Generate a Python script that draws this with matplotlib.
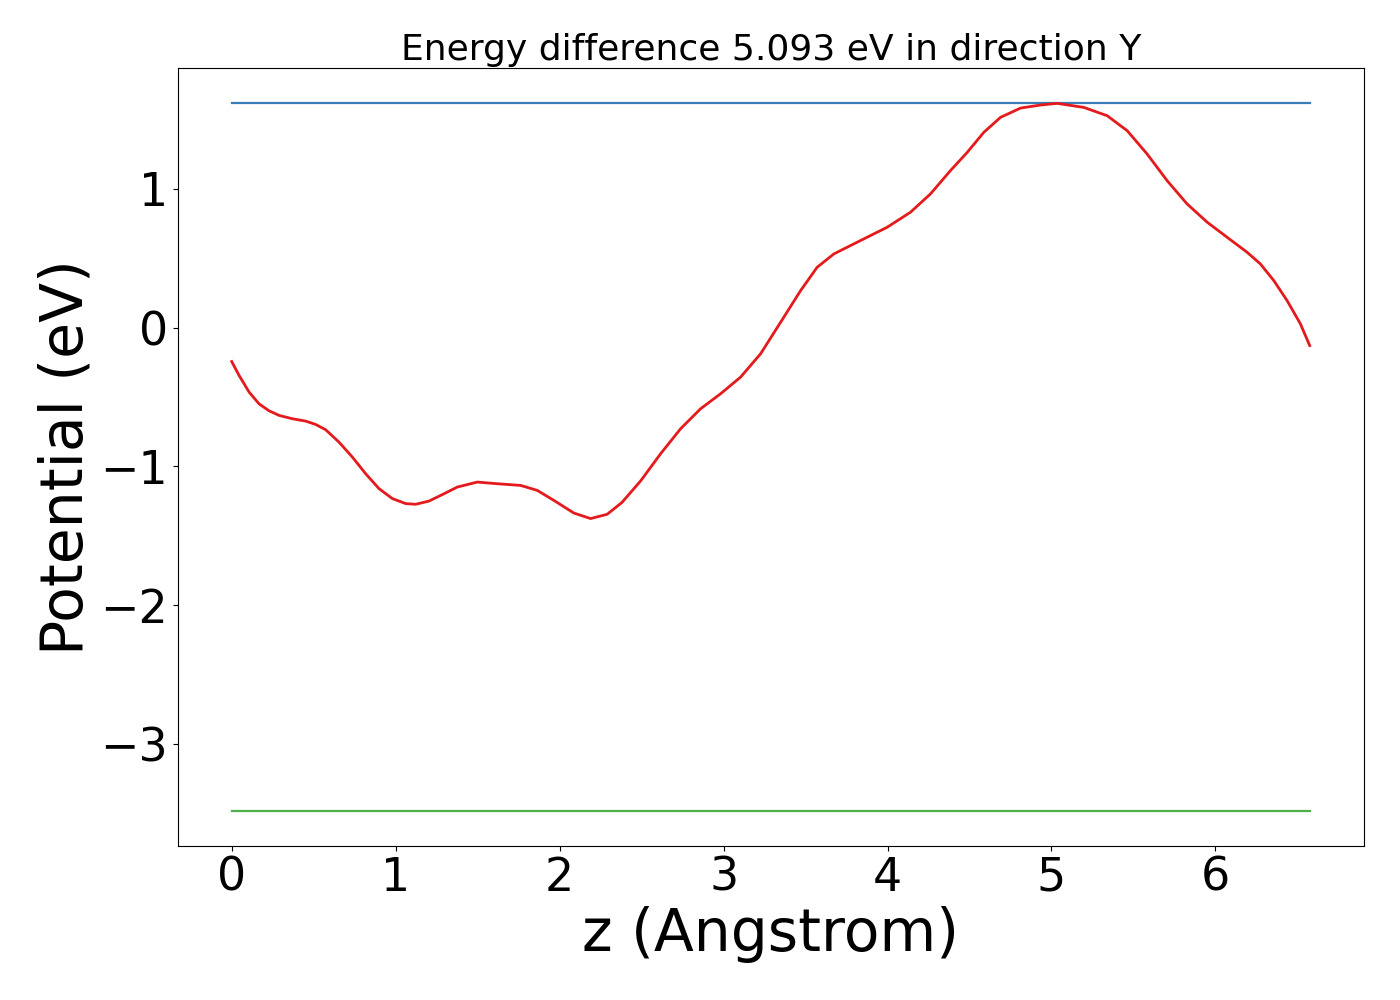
import matplotlib
matplotlib.use("Agg")
import matplotlib.pyplot as plt

# potential profile
z = [0.0, 0.045, 0.106, 0.167, 0.228, 0.289, 0.37, 0.451, 0.512, 0.573, 0.654,
     0.736, 0.817, 0.898, 0.98, 1.061, 1.122, 1.203, 1.285, 1.376, 1.498, 1.62,
     1.762, 1.864, 1.965, 2.087, 2.189, 2.29, 2.38, 2.494, 2.616, 2.738, 2.86,
     2.982, 3.104, 3.226, 3.348, 3.47, 3.571, 3.673, 3.835, 3.998, 4.14, 4.262,
     4.384, 4.486, 4.587, 4.689, 4.811, 4.933, 5.035, 5.197, 5.34, 5.462, 5.583,
     5.705, 5.827, 5.95, 6.071, 6.193, 6.274, 6.356, 6.437, 6.518, 6.575]
pot = [-0.245, -0.345, -0.465, -0.55, -0.60, -0.633, -0.657, -0.674, -0.698, -0.736,
       -0.825, -0.933, -1.053, -1.16, -1.232, -1.268, -1.273, -1.25, -1.203, -1.149,
       -1.113, -1.125, -1.137, -1.173, -1.245, -1.336, -1.376, -1.345, -1.26, -1.105,
       -0.909, -0.729, -0.585, -0.477, -0.357, -0.189, 0.038, 0.266, 0.434, 0.53,
       0.626, 0.722, 0.83, 0.962, 1.13, 1.261, 1.405, 1.513, 1.58, 1.602, 1.614,
       1.585, 1.525, 1.417, 1.25, 1.058, 0.89, 0.758, 0.65, 0.542, 0.458, 0.338,
       0.194, 0.027, -0.13]
vmax = 1.614
vmin = -3.479
dE = 5.093
direction = "Y"

fig = plt.figure(figsize=(14, 10), dpi=100)
ax = fig.add_axes([0.127, 0.154, 0.847, 0.778])
ax.plot([z[0], z[-1]], [vmax, vmax], color="#377eb8", lw=1.6)
ax.plot([z[0], z[-1]], [vmin, vmin], color="#4daf4a", lw=1.6)
ax.plot(z, pot, color="#e41a1c", lw=2, solid_joinstyle="round")
ax.set_title("Energy difference %.3f eV in direction %s" % (dE, direction), fontsize=26)
ax.set_xlabel("z (Angstrom)", fontsize=42)
ax.set_ylabel("Potential (eV)", fontsize=42)
ax.tick_params(labelsize=33)
fig.savefig("out.png")
